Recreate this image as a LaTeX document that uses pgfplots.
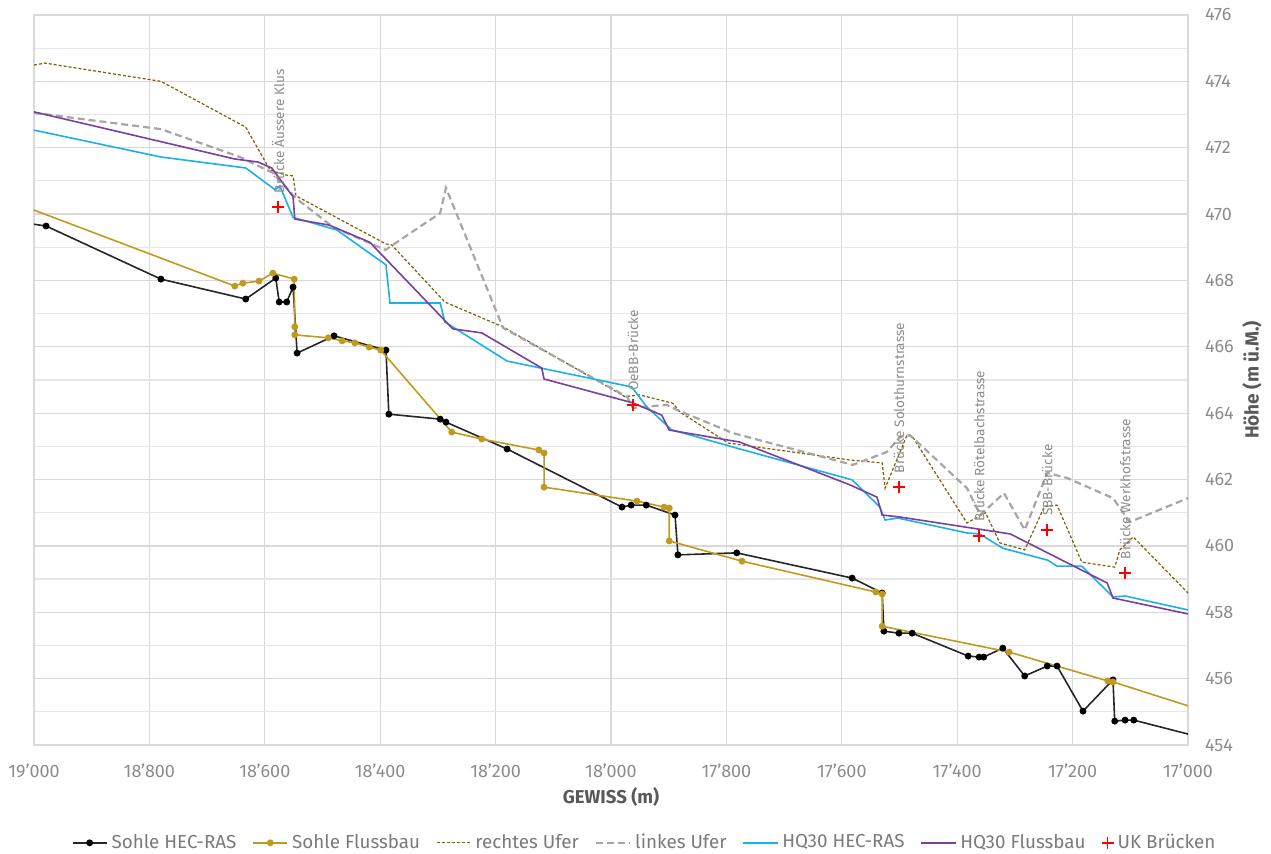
\documentclass[border=0pt]{standalone}
\usepackage{fontspec}
\setmainfont{Fira Sans}
\usepackage{pgfplots}
\usepackage{pgfplotstable}
\pgfplotsset{compat=1.18}
\definecolor{gridc}{HTML}{D9D9D9}
\definecolor{txt}{HTML}{8C8C8C}
\definecolor{ttl}{HTML}{595959}
\definecolor{leg}{HTML}{7A7A7A}
\definecolor{cBlack}{HTML}{262626}
\definecolor{cGold}{HTML}{C09A1E}
\definecolor{cOlive}{HTML}{7F6000}
\definecolor{cGray}{HTML}{A6A6A6}
\definecolor{cCyan}{HTML}{1CB0E8}
\definecolor{cPurple}{HTML}{7B3FA0}
\definecolor{cRed}{HTML}{FF0000}

\pgfplotstableread{
x y
19030 469.77
18979 469.64
18780 468.04
18633 467.44
18581 468.07
18575 467.35
18562 467.35
18551 467.80
18544 465.81
18480 466.33
18390 465.90
18385 463.97
18296 463.82
18286 463.73
18180 462.92
17981 461.17
17965 461.23
17939 461.23
17889 460.93
17884 459.73
17782 459.79
17582 459.03
17530 458.58
17527 457.43
17501 457.37
17478 457.37
17381 456.68
17362 456.65
17354 456.65
17321 456.92
17283 456.08
17244 456.38
17227 456.38
17182 455.02
17132 455.93
17130 455.96
17127 454.72
17109 454.75
17094 454.75
16980 454.24
}\sohleHEC

\pgfplotstableread{
x y
19050 470.45
18652 467.83
18638 467.92
18610 467.98
18586 468.22
18549 468.04
18548 466.60
18548 466.36
18490 466.27
18466 466.18
18444 466.12
18419 465.99
18399 465.90
18276 463.43
18224 463.22
18125 462.89
18116 462.80
18116 461.77
17955 461.35
17908 461.17
17899 461.14
17899 460.15
17773 459.54
17541 458.61
17530 458.55
17530 457.58
17310 456.80
17139 455.93
17130 455.90
16980 455.07
}\sohleFluss

\pgfplotstableread{
x y
19000 474.49
18981 474.55
18780 474.00
18633 472.62
18591 471.33
18565 471.18
18551 471.15
18546 470.55
18390 469.10
18380 469.07
18288 467.35
18187 466.60
17976 464.50
17950 464.55
17893 464.30
17880 464.03
17797 463.10
17586 462.59
17530 462.50
17525 461.74
17487 463.34
17477 463.28
17383 460.69
17351 461.00
17326 460.09
17283 459.88
17249 461.18
17227 461.23
17184 459.51
17127 459.36
17118 459.88
17095 460.27
17000 458.58
}\rechtesUfer

\pgfplotstableread{
x y
19000 473.05
18780 472.56
18643 471.72
18586 471.24
18546 470.48
18482 469.61
18391 468.92
18296 470.03
18286 470.79
18187 466.57
17972 464.49
17962 464.16
17903 464.25
17886 464.10
17789 463.40
17581 462.44
17522 462.83
17499 463.28
17482 463.34
17383 461.74
17360 460.93
17319 461.59
17283 460.48
17244 462.20
17210 462.05
17130 461.44
17101 460.72
17000 461.44
}\linkesUfer

\pgfplotstableread{
x y
19000 472.53
18780 471.72
18633 471.39
18582 470.73
18574 470.85
18551 469.90
18475 469.52
18390 468.47
18383 467.32
18296 467.32
18288 466.75
18180 465.57
17964 464.79
17938 464.19
17895 463.50
17789 462.98
17582 461.99
17534 461.17
17525 460.78
17503 460.84
17383 460.39
17361 460.36
17321 459.93
17243 459.57
17227 459.39
17184 459.39
17130 458.46
17109 458.49
17000 458.07
}\hqHEC

\pgfplotstableread{
x y
19000 473.08
18652 471.66
18612 471.57
18588 471.39
18551 470.52
18548 469.85
18489 469.67
18418 469.15
18284 466.72
18274 466.54
18224 466.42
18120 465.36
18116 465.03
17962 464.31
17912 463.94
17899 463.49
17777 463.13
17586 461.84
17539 461.47
17534 461.17
17530 460.93
17499 460.87
17308 460.36
17140 458.88
17130 458.43
17000 457.95
}\hqFluss

\pgfplotstableread[col sep=comma]{
x,y,label
18577,470.21,Brücke Äussere Klus
17962,464.25,OeBB-Brücke
17501,461.77,Brücke Solothurnstrasse
17362,460.30,Brücke Rötelbachstrasse
17244,460.48,SBB-Brücke
17109,459.18,Brücke Werkhofstrasse
}\bridges

\begin{document}
\begin{tikzpicture}
\begin{axis}[
  width=577pt, height=365pt, scale only axis,
  x dir=reverse,
  xmin=17000, xmax=19000, ymin=454, ymax=476,
  xtick={17000,17200,17400,17600,17800,18000,18200,18400,18600,18800,19000},
  ytick={454,456,458,460,462,464,466,468,470,472,474,476},
  minor ytick={455,457,459,461,463,465,467,469,471,473,475},
  scaled x ticks=false, scaled y ticks=false,
  xmajorgrids=true, ymajorgrids=true, yminorgrids=true,
  major grid style={draw=gridc, line width=0.6pt},
  minor grid style={draw=gridc!65, line width=0.6pt},
  axis line style={draw=gridc, line width=0.6pt},
  major tick length=0pt, minor tick length=0pt,
  yticklabel pos=right,
  tick label style={font=\fontsize{9}{10}\selectfont, text=txt},
  /pgf/number format/.cd, 1000 sep={'}, assume math mode=true,
  /pgfplots/.cd,
  xticklabel style={anchor=north, yshift=-6pt},
  yticklabel style={anchor=west, xshift=5pt},
  xlabel={GEWISS (m)},
  ylabel={Höhe (m ü.M.)},
  xlabel style={at={(axis description cs:0.5,-0.0712)}, anchor=center, font=\bfseries\fontsize{9.3}{10}\selectfont, text=ttl},
  ylabel style={at={(axis description cs:1.0555,0.5)}, anchor=center, rotate=0, font=\bfseries\fontsize{9.5}{10}\selectfont, text=ttl},
  legend style={at={(axis description cs:0.53,-0.134)}, anchor=center, draw=none, fill=none,
    font=\fontsize{9.4}{10}\selectfont, text=leg, legend columns=7,
    /tikz/every even column/.append style={column sep=6pt}},
  clip=true,
]
\addplot[color=cBlack, line width=0.8pt, mark=*, mark size=1.3pt, mark options={fill=black, draw=black}] table[x=x,y=y]{\sohleHEC};
\addlegendentry{Sohle HEC-RAS}
\addplot[color=cGold, line width=0.8pt, mark=*, mark size=1.3pt, mark options={fill=cGold, draw=cGold}] table[x=x,y=y]{\sohleFluss};
\addlegendentry{Sohle Flussbau}
\addplot[color=cOlive, line width=0.6pt, dash pattern=on 1.5pt off 1pt, mark=none] table[x=x,y=y]{\rechtesUfer};
\addlegendentry{rechtes Ufer}
\addplot[color=cGray, line width=1.1pt, dash pattern=on 3.5pt off 2pt, mark=none] table[x=x,y=y]{\linkesUfer};
\addlegendentry{linkes Ufer}
\addplot[color=cCyan, line width=0.8pt, mark=none] table[x=x,y=y]{\hqHEC};
\addlegendentry{HQ30 HEC-RAS}
\addplot[color=cPurple, line width=0.8pt, mark=none] table[x=x,y=y]{\hqFluss};
\addlegendentry{HQ30 Flussbau}
\addplot[only marks, mark=+, mark size=3pt, mark options={draw=cRed, line width=0.8pt}] table[x=x,y=y]{\bridges};
\addlegendentry{UK Brücken}
\addplot[forget plot, only marks, mark=none, point meta=explicit symbolic,
  nodes near coords,
  every node near coord/.style={rotate=90, anchor=west, inner sep=1pt, outer xsep=6pt,
    font=\fontsize{6.8}{8}\selectfont, text=txt}]
  table[x=x,y=y,meta=label]{\bridges};
\end{axis}
\pgfresetboundingbox
\path ([shift={(-17pt,-54.5pt)}]current axis.south west) rectangle ([shift={(41.5pt,7.5pt)}]current axis.north east);
\end{tikzpicture}
\end{document}
